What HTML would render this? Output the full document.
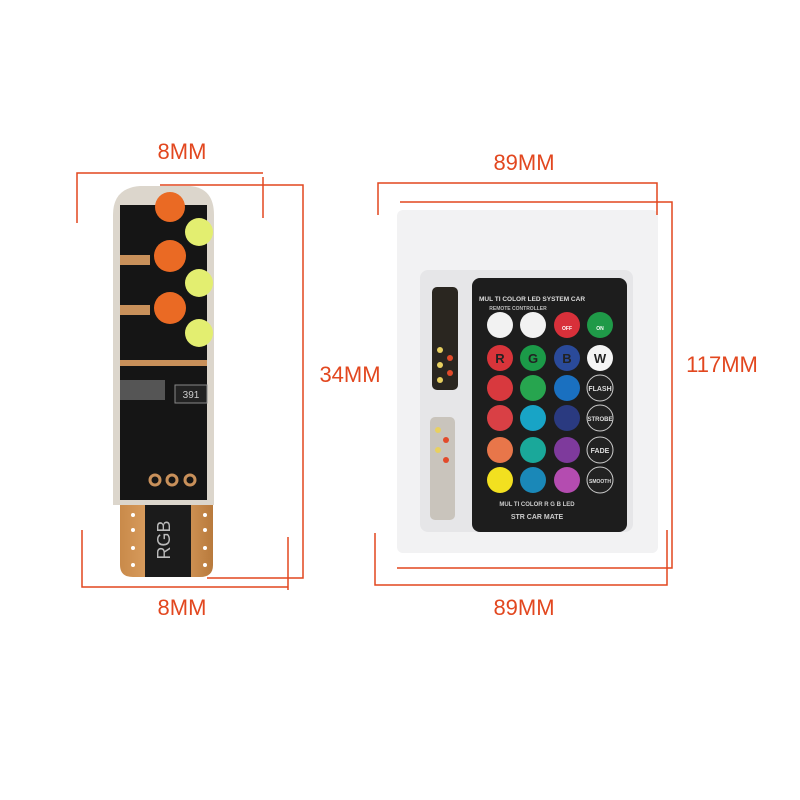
<!DOCTYPE html>
<html><head><meta charset="utf-8"><style>
body{margin:0;width:800px;height:800px;background:#fff;position:relative;overflow:hidden;font-family:"Liberation Sans",sans-serif}
.t{position:absolute;color:#e2471f;font-size:22px;transform:translate(-50%,-50%);white-space:nowrap}
</style></head><body>
<svg width="800" height="800" style="position:absolute;left:0;top:0">
<defs>
<linearGradient id="gold" x1="0" x2="1"><stop offset="0" stop-color="#c98a4a"/><stop offset="0.5" stop-color="#e2a86a"/><stop offset="1" stop-color="#b87a3c"/></linearGradient>
</defs>
<!-- left bulb -->
<path d="M120 505 L213 505 L213 565 Q213 577 200 577 L133 577 Q120 577 120 565 Z" fill="url(#gold)"/>
<rect x="145" y="505" width="46" height="72" fill="#1b1b1b"/>
<text x="170" y="540" transform="rotate(-90 170 540)" fill="#bbb" font-size="18" text-anchor="middle" font-family="Liberation Sans">RGB</text>
<g fill="#fff"><circle cx="133" cy="515" r="2"/><circle cx="133" cy="530" r="2"/><circle cx="133" cy="548" r="2"/><circle cx="133" cy="565" r="2"/><circle cx="205" cy="515" r="2"/><circle cx="205" cy="530" r="2"/><circle cx="205" cy="548" r="2"/><circle cx="205" cy="565" r="2"/></g>
<path d="M113 215 Q113 188 140 186 L190 186 Q214 188 214 215 L214 505 L113 505 Z" fill="#dcd6cc"/>
<path d="M120 205 L207 205 L207 500 L120 500 Z" fill="#151515"/>
<g fill="#c8905a"><rect x="120" y="255" width="30" height="10"/><rect x="120" y="305" width="30" height="10"/><rect x="120" y="360" width="87" height="6"/></g>
<g fill="#ea6a24"><circle cx="170" cy="207" r="15"/><circle cx="170" cy="256" r="16"/><circle cx="170" cy="308" r="16"/></g>
<g fill="#e3ee70"><circle cx="199" cy="232" r="14"/><circle cx="199" cy="283" r="14"/><circle cx="199" cy="333" r="14"/></g>
<rect x="175" y="385" width="32" height="18" fill="#222" stroke="#888"/>
<text x="191" y="398" fill="#ccc" font-size="10" text-anchor="middle">391</text>
<rect x="120" y="380" width="45" height="20" fill="#555"/>
<g fill="none" stroke="#c8905a" stroke-width="3"><circle cx="155" cy="480" r="5"/><circle cx="172" cy="480" r="5"/><circle cx="190" cy="480" r="5"/></g>
<!-- package -->
<rect x="397" y="210" width="261" height="343" rx="6" fill="#f2f2f3"/>
<rect x="420" y="270" width="213" height="262" rx="8" fill="#e6e6e8"/>
<rect x="472" y="278" width="155" height="254" rx="8" fill="#1d1d1d"/>
<rect x="432" y="287" width="26" height="103" rx="5" fill="#2a2620"/>
<rect x="430" y="417" width="25" height="103" rx="5" fill="#c9c4bc"/>
<g fill="#e8d060"><circle cx="440" cy="350" r="3"/><circle cx="440" cy="365" r="3"/><circle cx="440" cy="380" r="3"/><circle cx="438" cy="430" r="3"/><circle cx="438" cy="450" r="3"/></g>
<g fill="#e24a2a"><circle cx="450" cy="358" r="3"/><circle cx="450" cy="373" r="3"/><circle cx="446" cy="440" r="3"/><circle cx="446" cy="460" r="3"/></g>
<g font-family="Liberation Sans" font-weight="bold" text-anchor="middle">
<text x="532" y="301" fill="#ddd" font-size="6.5">MUL TI COLOR LED SYSTEM CAR</text>
<text x="518" y="310" fill="#bbb" font-size="5">REMOTE CONTROLLER</text>
<text x="537" y="506" fill="#ccc" font-size="6">MUL TI COLOR R G B LED</text>
<text x="537" y="519" fill="#ccc" font-size="7">STR CAR MATE</text>
</g>
<g>
<circle cx="500" cy="325" r="13" fill="#f2f2f2"/><circle cx="533" cy="325" r="13" fill="#f2f2f2"/><circle cx="567" cy="325" r="13" fill="#d8303a"/><circle cx="600" cy="325" r="13" fill="#1f9a48"/>
<circle cx="500" cy="358" r="13" fill="#d8343a"/><circle cx="533" cy="358" r="13" fill="#1b9a48"/><circle cx="567" cy="358" r="13" fill="#2a4a9a"/><circle cx="600" cy="358" r="13" fill="#f4f4f4"/>
<circle cx="500" cy="388" r="13" fill="#d8393e"/><circle cx="533" cy="388" r="13" fill="#27a54f"/><circle cx="567" cy="388" r="13" fill="#1a70c0"/><circle cx="600" cy="388" r="13" fill="#222" stroke="#ccc"/>
<circle cx="500" cy="418" r="13" fill="#d94045"/><circle cx="533" cy="418" r="13" fill="#18a4c6"/><circle cx="567" cy="418" r="13" fill="#2a3a80"/><circle cx="600" cy="418" r="13" fill="#222" stroke="#ccc"/>
<circle cx="500" cy="450" r="13" fill="#e8764a"/><circle cx="533" cy="450" r="13" fill="#1aa89a"/><circle cx="567" cy="450" r="13" fill="#7e3a9c"/><circle cx="600" cy="450" r="13" fill="#222" stroke="#ccc"/>
<circle cx="500" cy="480" r="13" fill="#f2e020"/><circle cx="533" cy="480" r="13" fill="#1a88b8"/><circle cx="567" cy="480" r="13" fill="#b44cb0"/><circle cx="600" cy="480" r="13" fill="#222" stroke="#ccc"/>
</g>
<g font-family="Liberation Sans" font-weight="bold" text-anchor="middle">
<text x="500" y="363" font-size="13" fill="#222">R</text><text x="533" y="363" font-size="13" fill="#222">G</text><text x="567" y="363" font-size="13" fill="#222">B</text><text x="600" y="363" font-size="13" fill="#222">W</text>
<text x="600" y="391" font-size="7" fill="#ddd">FLASH</text><text x="600" y="421" font-size="6" fill="#ddd">STROBE</text><text x="600" y="453" font-size="7" fill="#ddd">FADE</text><text x="600" y="483" font-size="5" fill="#ddd">SMOOTH</text>
<text x="567" y="330" font-size="5" fill="#fff">OFF</text><text x="600" y="330" font-size="5" fill="#fff">ON</text>
</g>
<!-- dimension lines -->
<g fill="none" stroke="#e2471f" stroke-width="1.5">
<path d="M77 223 L77 173 L263 173"/><path d="M263 177 L263 218"/>
<path d="M160 185 L303 185 L303 578 L207 578"/>
<path d="M82 530 L82 587 L288 587"/><path d="M288 537 L288 590"/>
<path d="M378 215 L378 183 L657 183 L657 215"/>
<path d="M400 202 L672 202 L672 568 L397 568"/>
<path d="M375 533 L375 585 L667 585 L667 530"/>
</g>
</svg>
<div class="t" style="left:182px;top:152px">8MM</div>
<div class="t" style="left:350px;top:375px">34MM</div>
<div class="t" style="left:182px;top:608px">8MM</div>
<div class="t" style="left:524px;top:163px">89MM</div>
<div class="t" style="left:722px;top:365px">117MM</div>
<div class="t" style="left:524px;top:608px">89MM</div>
</body></html>
